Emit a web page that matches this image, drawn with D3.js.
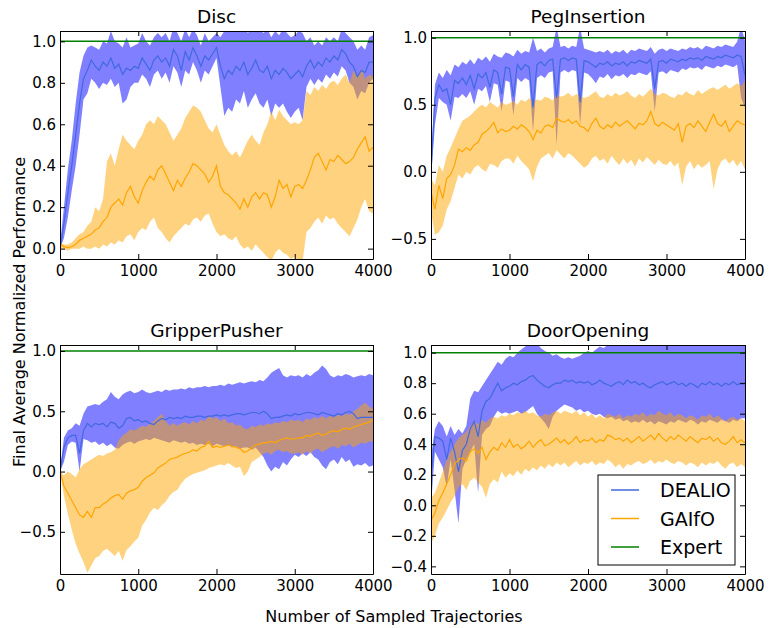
<!DOCTYPE html>
<html>
<head>
<meta charset="utf-8">
<script src="https://cdn.jsdelivr.net/npm/d3@7"></script>
<style>
  body { margin: 0; background: #fff; }
  svg text { font-family: "DejaVu Sans", sans-serif; fill: #000; }
</style>
</head>
<body>
<div id="chart"></div>
<script>
// sampled trajectories, every 50
var steps = d3.range(0, 4001, 50)
var xTicks = [0, 1000, 2000, 3000, 4000]
var seriesNames = ['DEALIO', 'GAIfO', 'Expert']
var expertLevel = 1.0

// ---- Disc
var discDealioMean = [0.00,0.12,0.27,0.40,0.55,0.70,0.82,0.86,0.91,0.88,
  0.86,0.90,0.88,0.92,0.87,0.89,0.84,0.87,0.86,0.88,
  0.87,0.92,0.89,0.86,0.91,0.93,0.90,0.92,0.88,0.96,
  0.93,0.86,0.95,0.91,0.97,0.93,0.88,0.93,0.91,0.94,
  0.97,0.88,0.82,0.86,0.84,0.88,0.86,0.90,0.84,0.87,
  0.91,0.86,0.85,0.88,0.82,0.86,0.84,0.87,0.85,0.82,
  0.84,0.86,0.83,0.88,0.91,0.87,0.90,0.88,0.92,0.90,
  0.93,0.91,0.96,0.94,0.90,0.88,0.83,0.86,0.85,0.90,
  0.90]
var discDealioLo = [0.00,0.05,0.15,0.28,0.40,0.55,0.72,0.75,0.82,0.80,
  0.77,0.80,0.79,0.82,0.78,0.80,0.70,0.72,0.78,0.80,
  0.80,0.84,0.82,0.78,0.84,0.86,0.82,0.85,0.80,0.88,
  0.85,0.78,0.86,0.84,0.90,0.86,0.80,0.86,0.84,0.88,
  0.92,0.78,0.64,0.68,0.66,0.72,0.70,0.76,0.68,0.72,
  0.75,0.70,0.68,0.72,0.64,0.70,0.68,0.70,0.66,0.63,
  0.66,0.68,0.62,0.78,0.82,0.79,0.82,0.80,0.84,0.82,
  0.85,0.83,0.88,0.86,0.80,0.78,0.72,0.76,0.75,0.80,
  0.82]
var discDealioHi = [0.02,0.20,0.38,0.52,0.70,0.85,0.93,0.97,0.98,0.97,
  0.96,1.00,0.99,1.05,1.00,0.99,0.97,1.02,0.97,0.98,
  0.99,1.04,1.00,0.98,1.02,1.04,1.02,1.04,1.00,1.07,
  1.04,1.00,1.06,1.02,1.06,1.03,0.98,1.04,1.00,1.02,
  1.04,1.02,1.05,1.06,1.05,1.07,1.06,1.08,1.04,1.06,
  1.08,1.06,1.04,1.06,1.02,1.05,1.03,1.06,1.04,1.02,
  1.03,1.05,1.04,1.00,1.02,0.98,1.00,0.98,1.02,1.00,
  1.02,1.00,1.06,1.04,1.02,1.00,0.96,0.98,0.96,1.02,
  1.03]
var discGaifoMean = [0.02,0.01,0.005,0.01,0.02,0.04,0.05,0.06,0.07,0.09,
  0.10,0.13,0.15,0.20,0.22,0.24,0.21,0.27,0.30,0.25,
  0.22,0.28,0.32,0.35,0.33,0.38,0.40,0.36,0.32,0.28,
  0.33,0.30,0.34,0.37,0.41,0.40,0.38,0.36,0.32,0.35,
  0.40,0.30,0.27,0.26,0.24,0.22,0.19,0.24,0.20,0.25,
  0.27,0.24,0.27,0.26,0.20,0.25,0.33,0.29,0.31,0.25,
  0.30,0.31,0.29,0.33,0.38,0.44,0.46,0.42,0.38,0.43,
  0.42,0.45,0.43,0.41,0.42,0.44,0.48,0.51,0.54,0.47,
  0.49]
var discGaifoLo = [0.00,0.00,-0.01,0.00,0.00,0.00,0.01,0.00,0.00,0.01,
  0.00,0.02,0.01,0.03,0.02,0.04,0.03,0.06,0.07,0.04,
  0.08,0.10,0.09,0.13,0.15,0.10,0.08,0.05,0.03,0.06,
  0.08,0.10,0.12,0.11,0.14,0.15,0.13,0.16,0.17,0.12,
  0.08,0.06,0.07,0.05,0.04,0.06,0.02,0.00,0.01,-0.01,
  0.02,0.00,-0.02,-0.04,-0.06,-0.02,0.00,-0.02,-0.03,-0.05,
  -0.04,-0.07,-0.06,0.08,0.10,0.13,0.15,0.12,0.16,0.14,
  0.15,0.12,0.10,0.08,0.06,0.10,0.14,0.20,0.24,0.18,
  0.17]
var discGaifoHi = [0.03,0.02,0.02,0.03,0.05,0.07,0.08,0.11,0.13,0.20,
  0.18,0.24,0.42,0.46,0.40,0.48,0.55,0.52,0.50,0.48,
  0.52,0.55,0.60,0.62,0.60,0.64,0.62,0.60,0.56,0.52,
  0.55,0.58,0.63,0.66,0.69,0.68,0.66,0.62,0.58,0.56,
  0.60,0.55,0.50,0.47,0.45,0.47,0.44,0.48,0.52,0.55,
  0.52,0.50,0.56,0.60,0.66,0.62,0.67,0.64,0.62,0.60,
  0.61,0.60,0.62,0.76,0.74,0.78,0.76,0.79,0.77,0.80,
  0.81,0.79,0.82,0.84,0.80,0.86,0.83,0.87,0.82,0.84,
  0.83]

// ---- PegInsertion
var pegDealioMean = [0.00,0.55,0.65,0.60,0.62,0.50,0.68,0.66,0.70,0.65,
  0.72,0.62,0.73,0.70,0.74,0.63,0.76,0.74,0.58,0.78,
  0.77,0.56,0.80,0.76,0.80,0.78,0.48,0.80,0.82,0.79,
  0.83,0.84,0.55,0.84,0.85,0.83,0.85,0.84,0.52,0.83,
  0.82,0.80,0.78,0.81,0.80,0.82,0.79,0.81,0.80,0.82,
  0.79,0.82,0.81,0.83,0.82,0.81,0.84,0.62,0.82,0.83,
  0.81,0.84,0.83,0.82,0.84,0.83,0.85,0.84,0.85,0.83,
  0.86,0.85,0.84,0.86,0.85,0.87,0.86,0.85,0.87,0.86,
  0.72]
var pegDealioLo = [-0.05,0.35,0.55,0.52,0.50,0.38,0.56,0.55,0.58,0.55,
  0.60,0.50,0.62,0.60,0.64,0.52,0.66,0.65,0.45,0.68,
  0.67,0.42,0.70,0.67,0.70,0.68,0.30,0.70,0.72,0.70,
  0.74,0.75,0.20,0.74,0.76,0.74,0.76,0.75,0.35,0.74,
  0.73,0.70,0.66,0.71,0.70,0.73,0.69,0.72,0.71,0.73,
  0.70,0.73,0.72,0.74,0.73,0.72,0.75,0.45,0.74,0.75,
  0.73,0.76,0.75,0.74,0.77,0.76,0.78,0.77,0.78,0.76,
  0.79,0.78,0.77,0.79,0.78,0.80,0.79,0.78,0.80,0.55,
  0.48]
var pegDealioHi = [0.05,0.65,0.74,0.70,0.76,0.72,0.80,0.78,0.82,0.80,
  0.84,0.80,0.85,0.83,0.86,0.82,0.88,0.86,0.85,0.89,
  0.88,0.86,0.91,0.88,0.90,0.89,1.00,0.90,0.92,0.89,
  0.92,0.93,1.08,0.93,0.94,0.92,0.94,0.93,1.08,0.92,
  0.91,0.90,0.89,0.90,0.89,0.91,0.88,0.90,0.89,0.91,
  0.88,0.91,0.90,0.92,0.91,0.90,0.93,0.88,0.91,0.92,
  0.90,0.92,0.91,0.90,0.92,0.91,0.93,0.92,0.93,0.91,
  0.94,0.93,0.92,0.94,0.93,0.95,0.94,0.93,0.97,1.08,
  0.98]
var pegGaifoMean = [-0.15,-0.28,-0.10,-0.20,-0.05,-0.02,0.05,0.17,0.15,0.18,
  0.16,0.20,0.22,0.28,0.30,0.33,0.37,0.29,0.32,0.30,
  0.31,0.34,0.32,0.35,0.33,0.30,0.24,0.31,0.29,0.34,
  0.35,0.33,0.40,0.38,0.37,0.39,0.36,0.38,0.34,0.33,
  0.30,0.36,0.40,0.34,0.32,0.35,0.33,0.37,0.34,0.36,
  0.38,0.35,0.32,0.36,0.35,0.38,0.45,0.36,0.34,0.37,
  0.35,0.33,0.31,0.36,0.22,0.34,0.36,0.33,0.38,0.34,
  0.30,0.37,0.43,0.36,0.34,0.38,0.30,0.34,0.38,0.36,
  0.35]
var pegGaifoLo = [-0.30,-0.47,-0.45,-0.40,-0.28,-0.22,-0.12,-0.02,-0.05,0.00,
  -0.02,0.03,0.05,0.02,0.00,0.06,0.05,0.03,0.08,0.10,
  0.10,0.06,0.12,0.08,0.05,0.02,-0.07,0.04,0.10,0.12,
  0.14,0.10,0.16,0.13,0.10,0.14,0.12,0.09,0.06,0.03,
  0.05,0.10,0.12,0.08,0.10,0.06,0.12,0.08,0.05,0.10,
  0.06,0.09,0.04,0.10,0.07,0.11,0.08,0.05,0.09,0.06,
  0.05,0.08,0.04,0.07,-0.10,0.04,0.08,0.02,0.06,0.03,
  0.05,0.08,-0.13,0.02,0.08,0.10,0.06,0.09,0.04,0.08,
  0.02]
var pegGaifoHi = [-0.05,-0.10,0.05,0.00,0.12,0.18,0.25,0.32,0.38,0.40,
  0.42,0.45,0.48,0.50,0.48,0.52,0.50,0.48,0.52,0.50,
  0.51,0.53,0.50,0.54,0.52,0.55,0.52,0.54,0.53,0.56,
  0.55,0.53,0.58,0.56,0.57,0.59,0.56,0.58,0.57,0.55,
  0.56,0.58,0.60,0.56,0.55,0.58,0.56,0.59,0.57,0.58,
  0.60,0.57,0.55,0.58,0.56,0.59,0.62,0.58,0.57,0.59,
  0.58,0.56,0.55,0.58,0.57,0.60,0.58,0.57,0.61,0.58,
  0.60,0.62,0.63,0.61,0.63,0.65,0.62,0.64,0.66,0.64,
  0.68]

// ---- GripperPusher
var gripDealioMean = [0.00,0.20,0.28,0.30,0.30,0.15,0.34,0.40,0.37,0.40,
  0.39,0.40,0.37,0.41,0.40,0.36,0.38,0.44,0.45,0.42,
  0.43,0.41,0.42,0.40,0.39,0.42,0.44,0.43,0.45,0.44,
  0.45,0.44,0.46,0.45,0.45,0.46,0.46,0.45,0.46,0.46,
  0.47,0.46,0.47,0.46,0.47,0.48,0.48,0.47,0.48,0.49,
  0.49,0.48,0.50,0.48,0.44,0.45,0.45,0.46,0.47,0.46,
  0.48,0.47,0.48,0.49,0.49,0.48,0.47,0.49,0.48,0.47,
  0.46,0.48,0.47,0.49,0.50,0.48,0.44,0.45,0.45,0.45,
  0.45]
var gripDealioLo = [0.00,0.08,0.22,0.25,0.24,0.00,0.27,0.26,0.24,0.25,
  0.22,0.24,0.21,0.23,0.20,0.19,0.22,0.24,0.25,0.23,
  0.25,0.26,0.27,0.26,0.28,0.27,0.26,0.25,0.24,0.26,
  0.25,0.24,0.25,0.23,0.24,0.22,0.23,0.22,0.23,0.21,
  0.23,0.22,0.21,0.22,0.20,0.21,0.19,0.20,0.20,0.18,
  0.20,0.16,0.12,0.05,0.00,0.04,0.02,0.08,0.05,0.10,
  0.14,0.12,0.15,0.13,0.16,0.12,0.10,0.05,0.02,0.08,
  0.10,0.06,0.12,0.08,0.10,0.04,0.06,0.05,0.07,0.04,
  0.05]
var gripDealioHi = [0.00,0.28,0.34,0.36,0.40,0.38,0.48,0.54,0.55,0.56,
  0.55,0.58,0.60,0.66,0.62,0.60,0.64,0.66,0.67,0.65,
  0.66,0.68,0.66,0.65,0.66,0.67,0.66,0.68,0.67,0.68,
  0.68,0.69,0.68,0.70,0.69,0.70,0.70,0.71,0.70,0.71,
  0.71,0.72,0.71,0.73,0.72,0.73,0.74,0.73,0.74,0.75,
  0.74,0.76,0.75,0.78,0.82,0.84,0.86,0.80,0.78,0.80,
  0.79,0.80,0.78,0.81,0.79,0.82,0.84,0.88,0.85,0.80,
  0.78,0.80,0.79,0.81,0.80,0.78,0.79,0.80,0.79,0.81,
  0.80]
var gripGaifoMean = [0.00,-0.12,-0.18,-0.24,-0.30,-0.36,-0.38,-0.33,-0.38,-0.30,
  -0.30,-0.27,-0.25,-0.22,-0.20,-0.19,-0.23,-0.18,-0.16,-0.15,
  -0.13,-0.08,-0.05,-0.03,-0.01,0.03,0.05,0.07,0.10,0.11,
  0.12,0.14,0.15,0.16,0.18,0.17,0.20,0.21,0.25,0.20,
  0.21,0.20,0.21,0.22,0.21,0.20,0.19,0.16,0.17,0.20,
  0.22,0.23,0.24,0.24,0.25,0.24,0.26,0.27,0.28,0.27,
  0.27,0.28,0.28,0.30,0.29,0.31,0.32,0.30,0.31,0.33,
  0.34,0.33,0.35,0.36,0.35,0.37,0.38,0.39,0.40,0.41,
  0.43]
var gripGaifoLo = [0.00,-0.20,-0.35,-0.48,-0.60,-0.68,-0.75,-0.84,-0.78,-0.72,
  -0.70,-0.66,-0.64,-0.67,-0.70,-0.66,-0.74,-0.65,-0.62,-0.58,
  -0.55,-0.45,-0.40,-0.34,-0.30,-0.32,-0.28,-0.25,-0.20,-0.17,
  -0.15,-0.10,-0.06,-0.04,-0.02,-0.01,0.00,0.01,0.03,0.04,
  0.05,0.06,0.05,0.07,0.05,0.03,0.04,-0.04,0.00,0.08,
  0.10,0.12,0.15,0.16,0.14,0.17,0.18,0.16,0.17,0.15,
  0.15,0.16,0.14,0.17,0.15,0.18,0.19,0.16,0.18,0.20,
  0.21,0.19,0.22,0.21,0.23,0.20,0.22,0.24,0.23,0.25,
  0.25]
var gripGaifoHi = [0.00,-0.03,0.00,-0.02,-0.05,0.02,0.06,0.08,0.10,0.12,
  0.14,0.13,0.15,0.16,0.18,0.26,0.30,0.32,0.35,0.34,
  0.36,0.38,0.37,0.40,0.42,0.45,0.48,0.42,0.38,0.40,
  0.38,0.40,0.41,0.39,0.42,0.40,0.43,0.42,0.46,0.44,
  0.45,0.42,0.44,0.40,0.41,0.38,0.39,0.36,0.35,0.38,
  0.37,0.39,0.38,0.40,0.39,0.41,0.40,0.42,0.41,0.43,
  0.42,0.43,0.41,0.44,0.43,0.45,0.44,0.46,0.44,0.46,
  0.45,0.47,0.46,0.48,0.47,0.50,0.52,0.55,0.57,0.54,
  0.52]

// ---- DoorOpening
var doorDealioMean = [0.18,0.45,0.44,0.42,0.30,0.44,0.35,0.22,0.36,0.40,
  0.50,0.55,0.45,0.62,0.68,0.70,0.75,0.80,0.75,0.77,
  0.78,0.80,0.79,0.81,0.82,0.84,0.85,0.82,0.80,0.78,
  0.77,0.79,0.80,0.80,0.82,0.81,0.82,0.80,0.81,0.80,
  0.81,0.79,0.80,0.82,0.80,0.79,0.78,0.80,0.81,0.79,
  0.82,0.80,0.81,0.79,0.80,0.78,0.77,0.79,0.80,0.81,
  0.79,0.80,0.81,0.79,0.80,0.78,0.80,0.79,0.77,0.80,
  0.79,0.81,0.79,0.80,0.78,0.80,0.79,0.81,0.79,0.80,
  0.80]
var doorDealioLo = [0.00,0.35,0.30,0.25,0.12,0.30,0.10,-0.12,0.24,0.30,
  0.35,0.40,0.08,0.46,0.50,0.52,0.58,0.62,0.60,0.61,
  0.60,0.61,0.62,0.60,0.61,0.63,0.65,0.60,0.57,0.54,
  0.50,0.58,0.62,0.64,0.66,0.65,0.64,0.62,0.63,0.61,
  0.62,0.60,0.59,0.60,0.58,0.57,0.58,0.56,0.57,0.55,
  0.56,0.54,0.55,0.54,0.56,0.54,0.55,0.53,0.55,0.54,
  0.53,0.55,0.54,0.56,0.55,0.54,0.56,0.55,0.53,0.55,
  0.54,0.56,0.55,0.54,0.56,0.55,0.54,0.56,0.55,0.57,
  0.57]
var doorDealioHi = [0.32,0.50,0.55,0.52,0.45,0.52,0.46,0.50,0.47,0.52,
  0.70,0.75,0.74,0.78,0.82,0.86,0.90,0.94,0.92,0.96,
  0.98,0.97,1.00,1.02,1.04,1.06,1.07,1.06,1.03,1.01,
  1.00,0.98,0.99,0.97,0.96,0.97,0.96,0.97,0.98,1.00,
  1.01,1.00,1.02,1.04,1.03,1.05,1.06,1.05,1.06,1.05,
  1.06,1.05,1.07,1.06,1.05,1.06,1.05,1.06,1.07,1.06,
  1.05,1.06,1.07,1.05,1.06,1.05,1.06,1.07,1.05,1.06,
  1.05,1.06,1.05,1.07,1.06,1.05,1.06,1.07,1.05,1.06,
  1.06]
var doorGaifoMean = [-0.10,-0.05,0.03,0.08,0.14,0.20,0.27,0.30,0.31,0.29,
  0.35,0.37,0.34,0.38,0.30,0.35,0.38,0.36,0.41,0.38,
  0.43,0.38,0.40,0.37,0.39,0.42,0.38,0.41,0.43,0.39,
  0.40,0.42,0.44,0.41,0.43,0.40,0.42,0.45,0.41,0.43,
  0.42,0.44,0.41,0.43,0.42,0.46,0.45,0.43,0.44,0.42,
  0.44,0.41,0.43,0.45,0.42,0.44,0.46,0.43,0.47,0.44,
  0.42,0.45,0.43,0.46,0.44,0.42,0.45,0.43,0.41,0.44,
  0.43,0.45,0.42,0.44,0.41,0.40,0.42,0.45,0.41,0.43,
  0.41]
var doorGaifoLo = [-0.25,-0.20,-0.12,-0.08,-0.03,0.02,0.06,0.12,0.14,0.10,
  0.16,0.18,0.15,0.12,0.05,0.14,0.17,0.15,0.22,0.18,
  0.21,0.19,0.23,0.20,0.24,0.22,0.25,0.23,0.26,0.24,
  0.27,0.25,0.28,0.26,0.28,0.25,0.27,0.29,0.26,0.28,
  0.27,0.29,0.26,0.28,0.27,0.30,0.28,0.25,0.27,0.24,
  0.27,0.26,0.28,0.29,0.27,0.28,0.30,0.27,0.29,0.28,
  0.30,0.28,0.27,0.29,0.28,0.26,0.28,0.27,0.25,0.28,
  0.26,0.28,0.27,0.29,0.26,0.24,0.27,0.28,0.25,0.27,
  0.25]
var doorGaifoHi = [0.05,0.08,0.15,0.22,0.30,0.35,0.40,0.44,0.46,0.48,
  0.52,0.55,0.53,0.56,0.54,0.57,0.58,0.57,0.59,0.58,
  0.60,0.59,0.61,0.60,0.62,0.60,0.61,0.59,0.58,0.60,
  0.59,0.61,0.62,0.60,0.62,0.61,0.60,0.62,0.59,0.61,
  0.58,0.60,0.57,0.59,0.57,0.60,0.59,0.58,0.60,0.57,
  0.59,0.58,0.60,0.59,0.61,0.58,0.60,0.59,0.62,0.60,
  0.59,0.61,0.58,0.60,0.59,0.57,0.59,0.58,0.56,0.59,
  0.58,0.60,0.57,0.59,0.57,0.55,0.57,0.58,0.56,0.57,
  0.55]

var panels = [
  {title: 'Disc', yDomain: [-0.05, 1.05], yTicks: [0, 0.2, 0.4, 0.6, 0.8, 1.0],
   dealio: [discDealioMean, discDealioLo, discDealioHi], gaifo: [discGaifoMean, discGaifoLo, discGaifoHi]},
  {title: 'PegInsertion', yDomain: [-0.65, 1.05], yTicks: [-0.5, 0, 0.5, 1.0],
   dealio: [pegDealioMean, pegDealioLo, pegDealioHi], gaifo: [pegGaifoMean, pegGaifoLo, pegGaifoHi]},
  {title: 'GripperPusher', yDomain: [-0.85, 1.05], yTicks: [-0.5, 0, 0.5, 1.0],
   dealio: [gripDealioMean, gripDealioLo, gripDealioHi], gaifo: [gripGaifoMean, gripGaifoLo, gripGaifoHi]},
  {title: 'DoorOpening', yDomain: [-0.45, 1.05], yTicks: [-0.4, -0.2, 0, 0.2, 0.4, 0.6, 0.8, 1.0],
   dealio: [doorDealioMean, doorDealioLo, doorDealioHi], gaifo: [doorGaifoMean, doorGaifoLo, doorGaifoHi]}
]

var boxes = [
  {x: 60, y: 31, w: 313, h: 228},
  {x: 431, y: 31, w: 314, h: 228},
  {x: 60, y: 345, w: 313, h: 229},
  {x: 431, y: 345, w: 314, h: 229}
]

var colors = {
  dealioLine: 'royalblue', dealioFill: 'blue',
  gaifoLine: 'orange', gaifoFill: 'orange',
  expert: 'green'
}

var svg = d3.select('#chart')
  .append('svg')
  .attr('width', 769)
  .attr('height', 628)

function toPoints(s) {
  return steps.map(function(t, i) {
    return {t: t, mean: s[0][i], lo: s[1][i], hi: s[2][i]}
  })
}

panels.forEach(function(p, i) {
  var box = boxes[i]
  var x = d3.scaleLinear().domain([0, 4000]).range([0, box.w])
  var y = d3.scaleLinear().domain(p.yDomain).range([box.h, 0])

  var g = svg.append('g')
    .attr('transform', 'translate(' + box.x + ',' + box.y + ')')

  g.append('clipPath')
    .attr('id', 'clip' + i)
    .append('rect')
    .attr('width', box.w)
    .attr('height', box.h)

  var plot = g.append('g').attr('clip-path', 'url(#clip' + i + ')')

  var area = d3.area()
    .x(d => x(d.t))
    .y0(d => y(d.lo))
    .y1(d => y(d.hi))
  var line = d3.line()
    .x(d => x(d.t))
    .y(d => y(d.mean))

  var dealio = toPoints(p.dealio)
  var gaifo = toPoints(p.gaifo)

  plot.append('path').datum(dealio)
    .attr('d', area)
    .attr('fill', colors.dealioFill)
    .attr('fill-opacity', 0.5)
  plot.append('path').datum(gaifo)
    .attr('d', area)
    .attr('fill', colors.gaifoFill)
    .attr('fill-opacity', 0.5)
  plot.append('path').datum(dealio)
    .attr('d', line)
    .attr('fill', 'none')
    .attr('stroke', colors.dealioLine)
    .attr('stroke-width', 1.2)
  plot.append('path').datum(gaifo)
    .attr('d', line)
    .attr('fill', 'none')
    .attr('stroke', colors.gaifoLine)
    .attr('stroke-width', 1.2)
  plot.append('line')
    .attr('x1', x(0)).attr('x2', x(4000))
    .attr('y1', y(expertLevel)).attr('y2', y(expertLevel))
    .attr('stroke', colors.expert)
    .attr('stroke-width', 1.5)

  // axes, ticks pointing inward on all four sides
  var fmt = d3.format('.1f')
  var bottom = g.append('g')
    .attr('transform', 'translate(0,' + box.h + ')')
    .call(d3.axisBottom(x).tickValues(xTicks).tickSize(-5).tickSizeOuter(0).tickPadding(6).tickFormat(d3.format('d')))
  var top = g.append('g')
    .call(d3.axisTop(x).tickValues(xTicks).tickSize(-5).tickSizeOuter(0).tickFormat(''))
  var left = g.append('g')
    .call(d3.axisLeft(y).tickValues(p.yTicks).tickSize(-5).tickSizeOuter(0).tickPadding(4).tickFormat(fmt))
  var right = g.append('g')
    .attr('transform', 'translate(' + box.w + ',0)')
    .call(d3.axisRight(y).tickValues(p.yTicks).tickSize(-5).tickSizeOuter(0).tickFormat(''))

  ;[bottom, top, left, right].forEach(function(a) {
    a.attr('font-size', 15).attr('font-family', '"DejaVu Sans", sans-serif')
    a.selectAll('line').attr('stroke', '#000')
    a.select('.domain').attr('stroke', '#000')
  })

  g.append('text')
    .attr('x', box.w / 2)
    .attr('y', -8)
    .attr('text-anchor', 'middle')
    .attr('font-size', 18.5)
    .text(p.title)
})

// legend in the DoorOpening panel
var lb = boxes[3]
var legend = svg.append('g')
  .attr('transform', 'translate(' + (lb.x + 167) + ',' + (lb.y + 130) + ')')
legend.append('rect')
  .attr('width', 137)
  .attr('height', 90)
  .attr('fill', '#fff')
  .attr('stroke', '#000')
var legendColors = [colors.dealioLine, colors.gaifoLine, colors.expert]
seriesNames.forEach(function(name, i) {
  var row = legend.append('g').attr('transform', 'translate(0,' + (15 + i * 28.5) + ')')
  row.append('line')
    .attr('x1', 13).attr('x2', 41)
    .attr('stroke', legendColors[i])
    .attr('stroke-width', 1.5)
  row.append('text')
    .attr('x', 62)
    .attr('y', 7)
    .attr('font-size', 19)
    .text(name)
})

svg.append('text')
  .attr('x', 394)
  .attr('y', 622)
  .attr('text-anchor', 'middle')
  .attr('font-size', 16)
  .text('Number of Sampled Trajectories')

svg.append('text')
  .attr('transform', 'translate(25,312) rotate(-90)')
  .attr('text-anchor', 'middle')
  .attr('font-size', 16)
  .text('Final Average Normalized Performance')
</script>
</body>
</html>
